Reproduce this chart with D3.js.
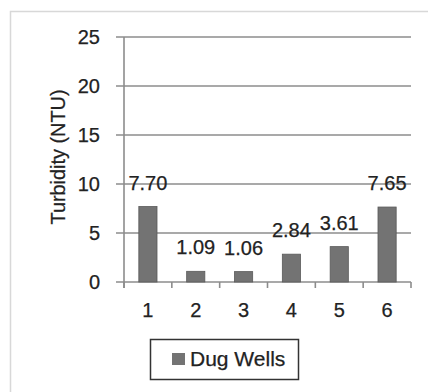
<!DOCTYPE html>
<html>
<head>
<meta charset="utf-8">
<script src="https://cdn.jsdelivr.net/npm/d3@7"></script>
<style>
  html, body { margin: 0; padding: 0; background: #fff; }
  svg { display: block; }
  text { font-family: "Liberation Sans", Arial, sans-serif; fill: #222; stroke: #222; stroke-width: 0.25px; }
</style>
</head>
<body>
<script>
const categories = ["1", "2", "3", "4", "5", "6"];
const values = [7.70, 1.09, 1.06, 2.84, 3.61, 7.65];
const valueLabels = ["7.70", "1.09", "1.06", "2.84", "3.61", "7.65"];
const yTicks = [0, 5, 10, 15, 20, 25];
const seriesName = "Dug Wells";
const yTitle = "Turbidity (NTU)";

const W = 428, H = 392;
const svg = d3.select("body").append("svg").attr("width", W).attr("height", H);

// outer frame
svg.append("rect").attr("x", 10.5).attr("y", 11.5).attr("width", 440).attr("height", 400)
  .attr("fill", "none").attr("stroke", "#d8d8d8").attr("stroke-width", 1.5);

const x = d3.scaleBand().domain(categories).range([124, 411]).paddingInner(0).paddingOuter(0);
const y = d3.scaleLinear().domain([0, 25]).range([282, 37]);

// gridlines
svg.append("g").selectAll("line").data(yTicks).join("line")
  .attr("x1", 116).attr("x2", 411)
  .attr("y1", d => y(d)).attr("y2", d => y(d))
  .attr("stroke", "#8c8c8c").attr("stroke-width", 1.6);

// y axis line
svg.append("line").attr("x1", 124).attr("x2", 124).attr("y1", y(25)).attr("y2", y(0) + 6)
  .attr("stroke", "#8c8c8c").attr("stroke-width", 1.6);

// x tick marks
const xt = categories.map(c => x(c)).concat([x.range()[1]]);
svg.append("g").selectAll("line").data(xt).join("line")
  .attr("x1", d => d).attr("x2", d => d).attr("y1", y(0)).attr("y2", y(0) + 6)
  .attr("stroke", "#8c8c8c").attr("stroke-width", 1.6);

// y tick labels
svg.append("g").selectAll("text").data(yTicks).join("text")
  .attr("x", 100).attr("y", d => y(d)).attr("dy", "0.36em")
  .attr("text-anchor", "end").attr("font-size", 20)
  .text(d => d);

// x tick labels
svg.append("g").selectAll("text").data(categories).join("text")
  .attr("x", d => x(d) + x.bandwidth() / 2).attr("y", 317)
  .attr("text-anchor", "middle").attr("font-size", 20)
  .text(d => d);

// bars
const bw = x.bandwidth() * 0.38;
svg.append("g").selectAll("rect").data(values).join("rect")
  .attr("x", (d, i) => x(categories[i]) + x.bandwidth() / 2 - bw / 2)
  .attr("width", bw)
  .attr("y", d => y(d))
  .attr("height", d => y(0) - y(d))
  .attr("fill", "#737373").attr("stroke", "#5a5a5a").attr("stroke-width", 0.8);

// value labels
svg.append("g").selectAll("text").data(values).join("text")
  .attr("x", (d, i) => x(categories[i]) + x.bandwidth() / 2)
  .attr("y", d => y(d) - 17)
  .attr("text-anchor", "middle").attr("font-size", 20)
  .text((d, i) => valueLabels[i]);

// y title
svg.append("text")
  .attr("transform", "translate(65,157) rotate(-90)")
  .attr("text-anchor", "middle").attr("font-size", 20)
  .attr("textLength", 135).attr("lengthAdjust", "spacingAndGlyphs")
  .text(yTitle);

// legend
svg.append("rect").attr("x", 150.5).attr("y", 339.5).attr("width", 148).attr("height", 40)
  .attr("fill", "#fff").attr("stroke", "#333").attr("stroke-width", 1.5);
svg.append("rect").attr("x", 172).attr("y", 353).attr("width", 13).attr("height", 12)
  .attr("fill", "#737373");
svg.append("text").attr("x", 190).attr("y", 366).attr("font-size", 21).text(seriesName);
</script>
</body>
</html>
